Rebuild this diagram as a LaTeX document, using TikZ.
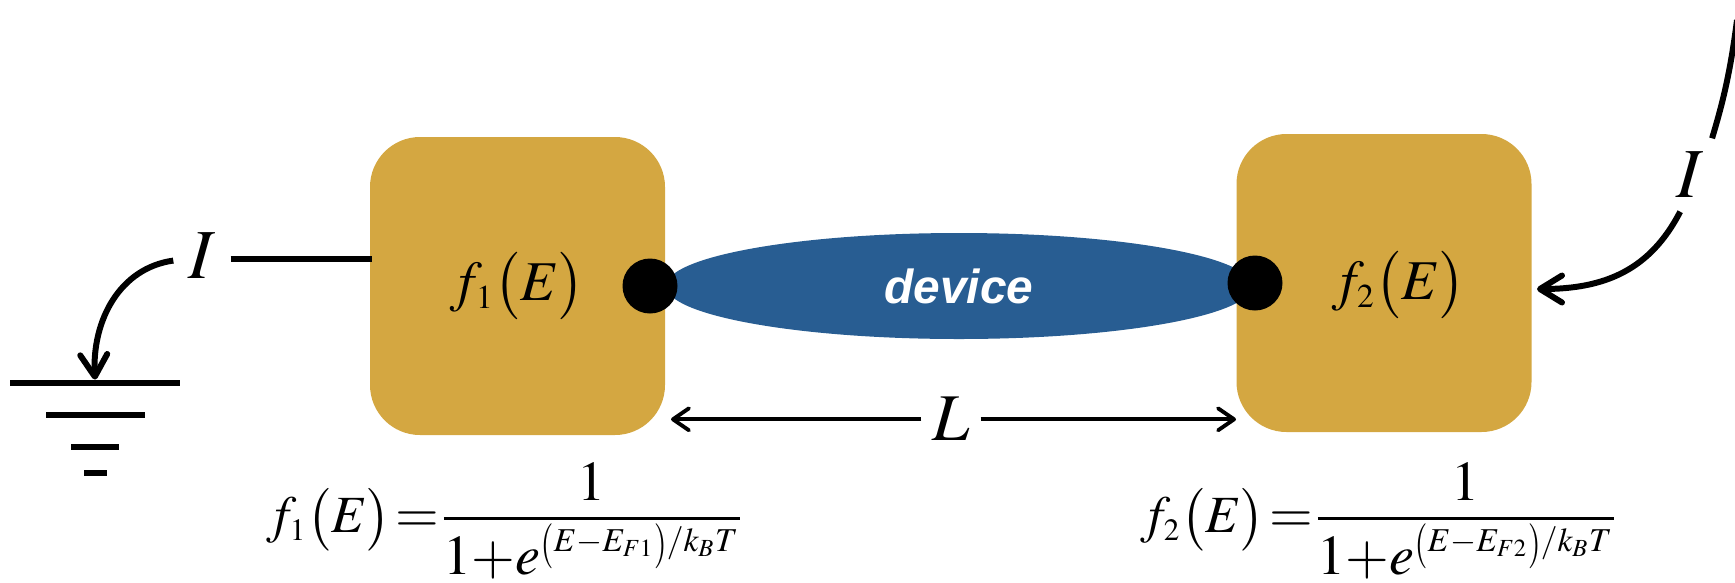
\documentclass[tikz,border=0pt]{standalone}
\usepackage{mathptmx}
\usepackage[no-math]{fontspec}
\usepackage{amsmath}
\usepackage{graphicx}
\usepackage{xcolor}
\usetikzlibrary{shapes.geometric, arrows.meta, positioning}
\newfontfamily\devicefont{Liberation Sans}
\DeclareMathSizes{16}{16}{9.5}{7}
\definecolor{contactgold}{HTML}{D4A741}
\definecolor{deviceblue}{HTML}{285D92}
\newcommand{\tallparen}[1]{\mathord{\raisebox{-1.6pt}{\scalebox{1}[1.35]{$\scriptstyle #1$}}}}
\newcommand{\fermifrac}[1]{\nulldelimiterspace=0pt\medmuskip=0mu\genfrac{}{}{0.8pt}{0}{\raisebox{-1.7pt}{$1$}}{\smash{\raisebox{-1pt}{$1+e^{\tallparen{(}E-E_{#1}\tallparen{)}/k_BT}$}}}}
\tikzset{
    contact/.style={rectangle, fill=contactgold, rounded corners=0.5cm, minimum width=2.95cm, minimum height=2.98cm, inner sep=0pt},
    distlabel/.style={inner sep=0pt, font=\fontsize{16}{19}\selectfont},
    dot/.style={circle, fill=black, minimum size=0.55cm, inner sep=0pt},
    curlabel/.style={minimum width=0.56cm, minimum height=0.72cm, inner sep=0pt, font=\fontsize{20}{24}\selectfont},
    gndbar/.style={rectangle, fill=black, minimum height=0.06cm, inner sep=0pt},
    wire/.style={line width=1.7pt},
    arrowwire/.style={wire, -{Straight Barb[length=0.22cm, width=0.27cm, round]}},
    thinarrow/.style={line width=1.1pt, -{Straight Barb[length=0.16cm, width=0.22cm, round]}},
    fermi/.style={inner sep=0pt, font=\fontsize{16}{19}\selectfont}
}
\begin{document}
\begin{tikzpicture}
    \useasboundingbox (0,0) rectangle (17.35,5.82);

    % CONTACTS AND CHANNEL
    \node (LeftBox) [contact] at (5.175,2.96) {};
    \node (RightBox) [contact] at (13.84,2.99) {};
    \node (LeftDist) [distlabel] at (5.175,2.96) {$f_1\bigl(E\bigr)$};
    \node (RightDist) [distlabel] at (13.985,2.97) {$f_2\bigl(E\bigr)$};
    \node (Device) [ellipse, fill=deviceblue, minimum width=5.86cm, minimum height=1.06cm, inner sep=0pt, text=white, font=\fontsize{13.6}{16}\devicefont\bfseries\itshape] at (9.59,2.96) {device};
    \node (LeftDot) [dot] at (6.50,2.96) {};
    \node (RightDot) [dot] at (12.55,2.99) {};

    % LENGTH
    \node (Length) [minimum width=0.58cm, minimum height=0.5cm, inner sep=0pt, font=\fontsize{19}{23}\selectfont] at (9.51,1.627) {$L$};
    \coordinate (LengthLeft) at (6.71,1.627);
    \coordinate (LengthRight) at (12.36,1.627);
    \draw[thinarrow] (Length) -- (LengthLeft);
    \draw[thinarrow] (Length) -- (LengthRight);

    % GROUND
    \node (Gnd1) [gndbar, minimum width=1.70cm] at (0.95,1.987) {};
    \node (Gnd2) [gndbar, minimum width=0.99cm] at (0.95,1.67) {};
    \node (Gnd3) [gndbar, minimum width=0.48cm] at (0.95,1.35) {};
    \node (Gnd4) [gndbar, minimum width=0.23cm] at (0.95,1.09) {};

    % LEFT CURRENT
    \node (LeftCurrent) [curlabel] at (2.02,3.265) {$I$};
    \draw[wire] (LeftCurrent.-6) -- ([xshift=0.03cm]LeftBox.west |- LeftCurrent.-6);
    \draw[arrowwire] (LeftCurrent.190) .. controls (1.20,3.14) and (0.92,2.62) .. (Gnd1.north);

    % RIGHT CURRENT
    \node (RightCurrent) [curlabel] at (16.90,4.07) {$I$};
    \coordinate (RightTop) at (17.37,5.62);
    \coordinate (RightTip) at (15.37,2.93);
    \draw[wire] (RightTop) .. controls (17.30,5.07) and (17.22,4.77) .. (RightCurrent.59);
    \draw[arrowwire] (RightCurrent.-105) .. controls (16.50,3.12) and (16.05,2.93) .. (RightTip);

    % DISTRIBUTIONS
    \node (LeftFermi) [fermi] at (5.03,0.65) {$\thickmuskip=1.5mu \scalebox{0.93}{$f_1\bigl(E\bigr)$}=\fermifrac{F1}$};
    \node (RightFermi) [fermi] at (13.77,0.65) {$\thickmuskip=1.5mu \scalebox{0.93}{$f_2\bigl(E\bigr)$}=\fermifrac{F2}$};
\end{tikzpicture}
\end{document}
